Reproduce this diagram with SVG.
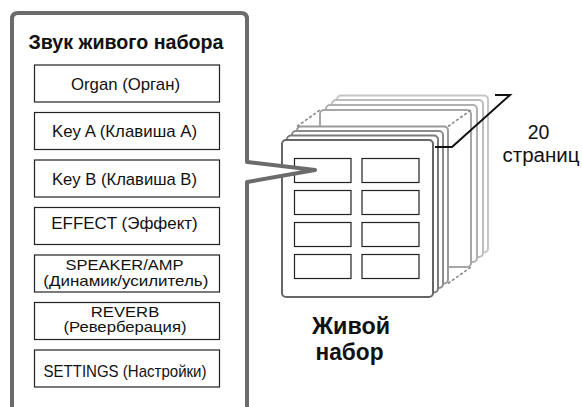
<svg xmlns="http://www.w3.org/2000/svg" width="582" height="407" viewBox="0 0 582 407">
<defs>
<style>
.bg{fill:#fff}
.page{fill:#fff;stroke-width:2}
.cell{fill:#fff;stroke:#222;stroke-width:1.2}
.item{fill:#fff;stroke:#222;stroke-width:1.2}
.t{font-family:"Liberation Sans",Arial,sans-serif;font-size:17px;fill:#111;text-anchor:middle}
.t2{font-size:15px}
.b{font-family:"Liberation Sans",Arial,sans-serif;font-weight:bold;fill:#111;text-anchor:middle}
.dash{fill:none;stroke:#888;stroke-width:1.6;stroke-dasharray:3 2}
.panel{fill:#fff;stroke:#6b6b6b;stroke-width:4;stroke-linejoin:round}
</style>
<rect id="pg" x="282" y="140" width="151" height="157" rx="4"/>
</defs>
<rect class="bg" width="582" height="407"/>

<g id="page-stack">
<use href="#pg" class="page" x="55" y="-44.5" stroke="#c6c6c6"/>
<use href="#pg" class="page" x="50" y="-40" stroke="#bdbdbd"/>
<use href="#pg" class="page" x="44" y="-35" stroke="#b0b0b0"/>
<use href="#pg" class="page" x="38" y="-30" stroke="#a6a6a6"/>
<path class="dash" d="M297,126.5 L320,110 M448,126.5 L471,110 M448,283.5 L471,267"/>
<use href="#pg" class="page" x="15" y="-13.5" stroke="#9a9a9a"/>
<use href="#pg" class="page" x="10" y="-9" stroke="#8c8c8c"/>
<use href="#pg" class="page" x="5" y="-4.5" stroke="#7c7c7c"/>
<use href="#pg" class="page" stroke="#666" stroke-width="2.5"/>
<rect class="cell" x="294.5" y="158.5" width="56.5" height="24"/>
<rect class="cell" x="362" y="158.5" width="57" height="24"/>
<rect class="cell" x="294.5" y="190.5" width="56.5" height="24"/>
<rect class="cell" x="362" y="190.5" width="57" height="24"/>
<rect class="cell" x="294.5" y="222.5" width="56.5" height="24"/>
<rect class="cell" x="362" y="222.5" width="57" height="24"/>
<rect class="cell" x="294.5" y="254.5" width="56.5" height="24"/>
<rect class="cell" x="362" y="254.5" width="57" height="24"/>
</g>

<g id="connectors">
<polyline points="435,147 452,147 510,95 495,95" fill="none" stroke="#111" stroke-width="2"/>
</g>

<g id="live-set-panel">
<path class="panel" d="M12,412 V19 Q12,13 18,13 H241 Q247,13 247,19 V162 L315,170 L247,182 V412"/>
<text class="b" x="126" y="48.5" font-size="19.5" textLength="195" lengthAdjust="spacingAndGlyphs">Звук живого набора</text>
</g>

<g id="item-organ">
<rect class="item" x="34.5" y="65" width="185" height="37"/>
<text class="t" x="125.5" y="89.5" textLength="109" lengthAdjust="spacingAndGlyphs">Organ (Орган)</text>
</g>
<g id="item-keya">
<rect class="item" x="34.5" y="112.5" width="185" height="37"/>
<text class="t" x="124.5" y="137" textLength="145" lengthAdjust="spacingAndGlyphs">Key A (Клавиша A)</text>
</g>
<g id="item-keyb">
<rect class="item" x="34.5" y="160" width="185" height="37"/>
<text class="t" x="124.5" y="185" textLength="145" lengthAdjust="spacingAndGlyphs">Key B (Клавиша B)</text>
</g>
<g id="item-effect">
<rect class="item" x="34.5" y="207.5" width="185" height="37"/>
<text class="t" x="124.5" y="228.5" textLength="146.5" lengthAdjust="spacingAndGlyphs">EFFECT (Эффект)</text>
</g>
<g id="item-speaker">
<rect class="item" x="34.5" y="255" width="185" height="37"/>
<text class="t t2" x="124.5" y="270" textLength="118" lengthAdjust="spacingAndGlyphs">SPEAKER/AMP</text>
<text class="t t2" x="125.8" y="285.5" textLength="165" lengthAdjust="spacingAndGlyphs">(Динамик/усилитель)</text>
</g>
<g id="item-reverb">
<rect class="item" x="34.5" y="302.5" width="185" height="37"/>
<text class="t t2" x="125" y="316.5" textLength="68.5" lengthAdjust="spacingAndGlyphs">REVERB</text>
<text class="t t2" x="125" y="332" textLength="123" lengthAdjust="spacingAndGlyphs">(Реверберация)</text>
</g>
<g id="item-settings">
<rect class="item" x="34.5" y="350" width="185" height="37"/>
<text class="t" x="125" y="376.5" textLength="163" lengthAdjust="spacingAndGlyphs">SETTINGS (Настройки)</text>
</g>

<g id="label-live-set">
<text class="b" x="351" y="333.5" font-size="23" textLength="78" lengthAdjust="spacingAndGlyphs">Живой</text>
<text class="b" x="349.5" y="360" font-size="23" textLength="68" lengthAdjust="spacingAndGlyphs">набор</text>
</g>

<g id="label-pages">
<text class="t" x="538.5" y="138.5" style="font-size:19.5px">20</text>
<text class="t" x="541" y="162" style="font-size:19.5px" textLength="77" lengthAdjust="spacingAndGlyphs">страниц</text>
</g>
</svg>
